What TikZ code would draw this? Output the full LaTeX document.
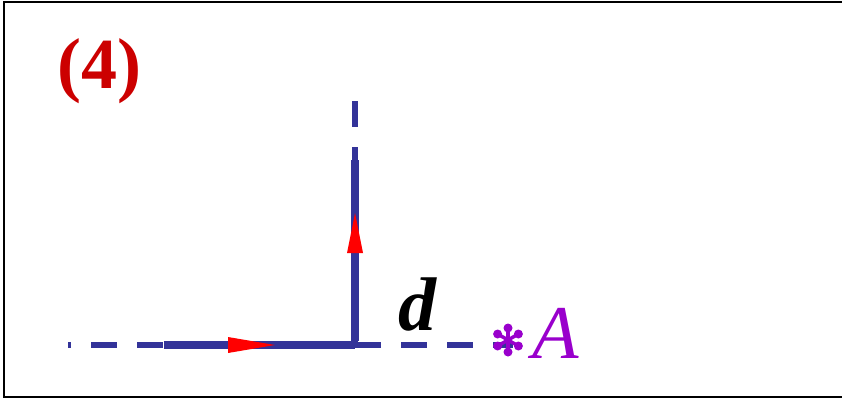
\documentclass[tikz,border=0pt]{standalone}
\usepackage{fontspec}
\setmainfont{Liberation Serif}
\usetikzlibrary{calc}
\definecolor{lineblue}{HTML}{333399}
\definecolor{titlered}{HTML}{CC0000}
\definecolor{arrred}{HTML}{FF0000}
\definecolor{ptpurple}{HTML}{9900CC}
\tikzset{
  dashline/.style={draw=lineblue, line width=6pt, dash pattern=on 26pt off 20pt},
  solidline/.style={draw=lineblue, line width=8pt},
  redtip/.style={fill=arrred, draw=none},
  bigtext/.style={inner sep=0pt, font=\fontsize{76}{80}\selectfont},
}
\begin{document}
\begin{tikzpicture}[x=1pt,y=-1pt]
\useasboundingbox (0,0) rectangle (842,399);
\draw[black, line width=2pt] (4,2) rectangle (850,397);
% coordinates
\coordinate (O) at (355,345);
\coordinate (L) at (68,345);
\coordinate (S) at (164,345);
\coordinate (R) at (513,345);
\coordinate (T) at (355,101);
\coordinate (U) at (355,160);
% dashed lines
\draw[dashline, dash phase=23pt] (L) -- (O);
\draw[dashline] (O) -- (R);
\draw[dashline] (T) -- (O);
% solid parts
\draw[solidline] (S) -- (O);
\draw[solidline] (U) -- ([yshift=4pt]O);
% red arrow heads
\fill[redtip] (275,345) -- (228,337) -- (228,353) -- cycle;
\fill[redtip] (355,213) -- (347,253) -- (363,253) -- cycle;
% asterisk
\coordinate (P) at (508,340);
\foreach \a in {90,30,-30,-90,-150,150}{
  \draw[ptpurple, line width=3.5pt] (P) -- ($(P)+(\a:13)$);
  \fill[ptpurple] ($(P)+(\a:12)$) circle (4.5);
}
% texts
\node[bigtext, anchor=base west, text=titlered, font=\fontsize{72}{76}\selectfont] (title) at (57,88) {\bfseries (4)};
\node[bigtext, anchor=base west] (dlab) at (398,330) {\bfseries\itshape d};
\node[bigtext, anchor=base west, text=ptpurple] (alab) at (532,358) {\itshape A};
\end{tikzpicture}
\end{document}
